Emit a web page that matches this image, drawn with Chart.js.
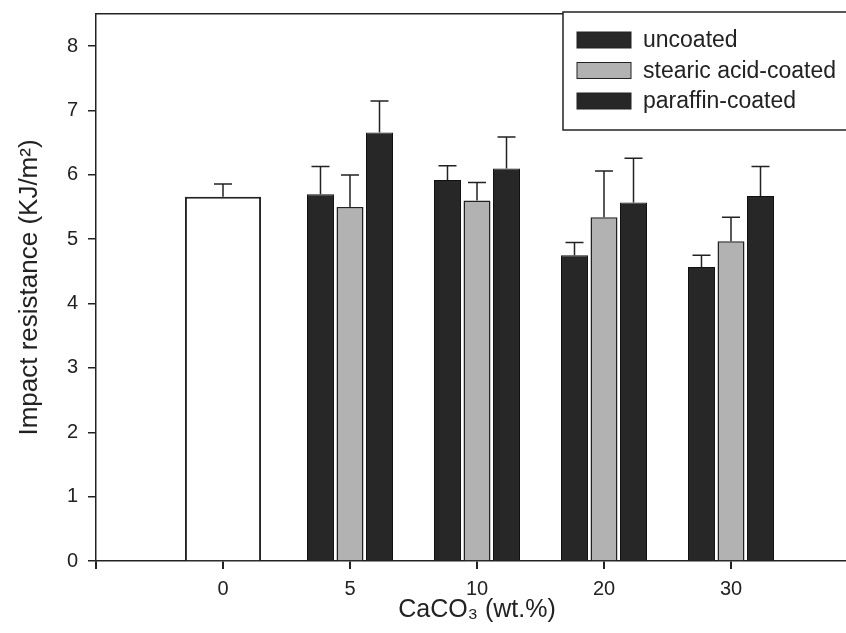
<!DOCTYPE html>
<html>
<head>
<meta charset="utf-8">
<script src="https://cdn.jsdelivr.net/npm/chart.js@4.4.0/dist/chart.umd.min.js"></script>
<style>
  html, body { margin: 0; padding: 0; background: #fff; overflow: hidden; }
  #chart { display: block; }
</style>
</head>
<body>
<canvas id="chart" width="860" height="633"></canvas>
<script>
// CaCO3 loading (wt.%)
const loadings = ['0', '5', '10', '20', '30'];

// impact resistance, KJ/m2, with upward error bars
const neat = [5.66, null, null, null, null];
const neatErr = [0.20, null, null, null, null];
const uncoated = [null, 5.70, 5.92, 4.75, 4.57];
const uncoatedErr = [null, 0.43, 0.22, 0.20, 0.18];
const stearic = [null, 5.50, 5.60, 5.34, 4.97];
const stearicErr = [null, 0.50, 0.28, 0.72, 0.37];
const paraffin = [null, 6.66, 6.10, 5.57, 5.67];
const paraffinErr = [null, 0.49, 0.49, 0.69, 0.46];

const yTicks = [0, 1, 2, 3, 4, 5, 6, 7, 8];

const INK = '#222';
const DARK = '#272727';
const GREY = '#b2b2b2';

// blank slot either side, like the original axis
const pad = arr => [null].concat(arr, [null]);
const labels = [''].concat(loadings, ['']);

const errorBars = {
  id: 'errorBars',
  afterDatasetsDraw(chart) {
    const { ctx } = chart;
    const y = chart.scales.y;
    ctx.save();
    ctx.strokeStyle = INK;
    ctx.lineWidth = 1.5;
    chart.data.datasets.forEach((ds, i) => {
      const meta = chart.getDatasetMeta(i);
      meta.data.forEach((bar, j) => {
        const v = ds.data[j], e = ds.errors[j];
        if (v == null || e == null) return;
        const top = y.getPixelForValue(v + e);
        ctx.beginPath();
        ctx.moveTo(bar.x, bar.y);
        ctx.lineTo(bar.x, top);
        ctx.moveTo(bar.x - 9, top);
        ctx.lineTo(bar.x + 9, top);
        ctx.stroke();
      });
    });
    ctx.restore();
  }
};

const boxLegend = {
  id: 'boxLegend',
  afterDraw(chart) {
    const { ctx, chartArea } = chart;
    const left = 563, top = chartArea.top - 2, bottom = 130;
    ctx.save();
    ctx.fillStyle = '#fff';
    ctx.fillRect(left, top, chartArea.right - left, bottom - top);
    ctx.strokeStyle = INK;
    ctx.lineWidth = 1.5;
    ctx.strokeRect(left, top, chartArea.right - left, bottom - top);
    ctx.font = '23px "Liberation Sans", Arial, sans-serif';
    ctx.textBaseline = 'middle';
    chart.data.datasets.slice(1).forEach((ds, k) => {
      const cy = 40 + k * 30.5;
      ctx.fillStyle = ds.backgroundColor;
      ctx.fillRect(577, cy - 8, 54, 16);
      ctx.lineWidth = 1;
      ctx.strokeStyle = INK;
      ctx.strokeRect(577, cy - 8, 54, 16);
      ctx.fillStyle = INK;
      ctx.fillText(ds.label, 643, cy + 1);
    });
    ctx.restore();
  }
};

Chart.defaults.font.family = '"Liberation Sans", Arial, sans-serif';
Chart.defaults.color = INK;

new Chart(document.getElementById('chart'), {
  type: 'bar',
  data: {
    labels: labels,
    datasets: [
      {
        label: 'neat',
        data: pad(neat),
        errors: pad(neatErr),
        backgroundColor: '#fff',
        borderColor: INK,
        borderWidth: 2,
        barPercentage: 0.86,
        skipNull: true
      },
      {
        label: 'uncoated',
        data: pad(uncoated),
        errors: pad(uncoatedErr),
        backgroundColor: DARK,
        borderColor: '#111',
        borderWidth: 1,
        skipNull: true
      },
      {
        label: 'stearic acid-coated',
        data: pad(stearic),
        errors: pad(stearicErr),
        backgroundColor: GREY,
        borderColor: INK,
        borderWidth: 1.5,
        skipNull: true
      },
      {
        label: 'paraffin-coated',
        data: pad(paraffin),
        errors: pad(paraffinErr),
        backgroundColor: DARK,
        borderColor: '#111',
        borderWidth: 1,
        skipNull: true
      }
    ]
  },
  options: {
    responsive: false,
    animation: false,
    categoryPercentage: 0.697,
    barPercentage: 0.915,
    layout: { padding: { top: 14, left: 0, right: 2, bottom: 0 } },
    plugins: {
      legend: { display: false },
      tooltip: { enabled: false }
    },
    scales: {
      x: {
        offset: false,
        grid: { display: true, offset: false, drawOnChartArea: false, drawTicks: true, tickLength: 8, color: INK, lineWidth: 2 },
        border: { display: true, color: INK, width: 1.5 },
        ticks: { padding: 8, font: { size: 20 }, maxRotation: 0, autoSkip: false },
        title: { display: true, text: 'CaCO₃ (wt.%)', font: { size: 25 }, padding: { top: 0, bottom: 8 } },
        afterFit: s => { s.height = 72; s.paddingLeft = 0; s.paddingRight = 0; }
      },
      x2: {
        position: 'top',
        type: 'category',
        labels: labels,
        offset: false,
        grid: { display: false },
        ticks: { display: false },
        border: { display: true, color: INK, width: 1.5 },
        afterFit: s => { s.height = 0; s.paddingLeft = 0; s.paddingRight = 0; }
      },
      y: {
        min: 0,
        max: 8.5,
        grid: { display: true, drawOnChartArea: false, drawTicks: true, tickLength: 8, color: INK, lineWidth: 1.5 },
        border: { display: true, color: INK, width: 1.5 },
        ticks: { stepSize: 1, includeBounds: false, padding: 10, font: { size: 20 } },
        afterBuildTicks: s => { s.ticks = yTicks.map(v => ({ value: v })); },
        title: { display: true, text: 'Impact resistance (KJ/m²)', font: { size: 26 }, padding: { top: 14, bottom: 0 } },
        afterFit: s => { s.width = 96; s.paddingTop = 0; s.paddingBottom = 0; }
      }
    }
  },
  plugins: [errorBars, boxLegend]
});
</script>
</body>
</html>
